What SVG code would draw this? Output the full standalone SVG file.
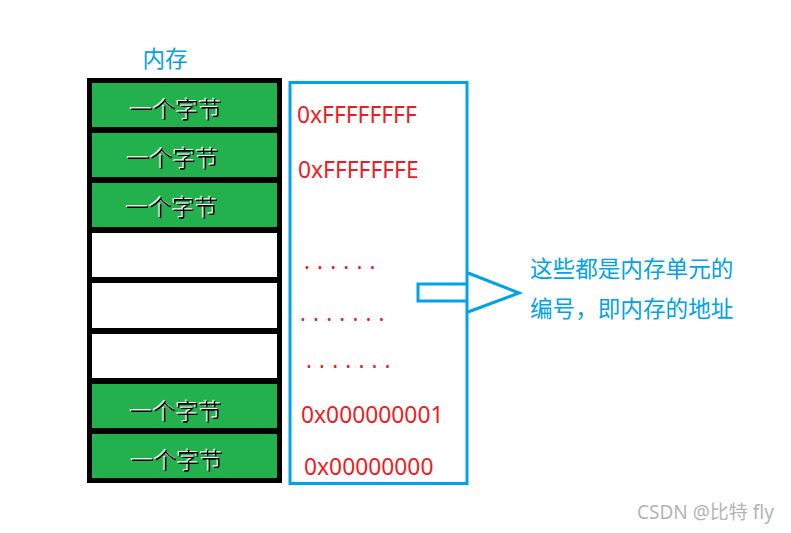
<svg xmlns="http://www.w3.org/2000/svg" width="791" height="533" viewBox="0 0 791 533">
<defs>
<style>
.cell-g{fill:#22b14c}
.cell-w{fill:#ffffff}
.byte{font-family:"Noto Sans CJK SC","Noto Sans",sans-serif;font-size:23px;fill:#000;text-anchor:middle;filter:url(#ws)}
.addr{font-family:"Noto Sans","Noto Sans CJK SC",sans-serif;font-size:22.8px;fill:#ed1c24}
.dots{font-family:"Noto Sans",sans-serif;font-size:22px;fill:#ed1c24;letter-spacing:7.2px}
.blue{font-family:"Noto Sans CJK SC","Noto Sans",sans-serif;font-size:22.6px;fill:#00a2e8}
.line{fill:none;stroke:#00a2e8;stroke-width:3}
</style>
<filter id="ws" x="-10%" y="-20%" width="120%" height="140%">
<feDropShadow dx="-1.2" dy="-1" stdDeviation="0" flood-color="#ffffff" flood-opacity="1"/>
</filter>
</defs>
<rect width="791" height="533" fill="#ffffff"/>

<g id="memory-title"><text class="blue" x="165" y="67" text-anchor="middle" font-size="22">内存</text></g>

<g id="memory-frame"><rect x="87" y="78" width="195" height="405" fill="#000"/></g>
<g id="cell1"><rect class="cell-g" x="92" y="83" width="185" height="44"/><text class="byte" x="176" y="118">一个字节</text></g>
<g id="cell2"><rect class="cell-g" x="92" y="133" width="185" height="44"/><text class="byte" x="173" y="167">一个字节</text></g>
<g id="cell3"><rect class="cell-g" x="92" y="183" width="185" height="44"/><text class="byte" x="172" y="216">一个字节</text></g>
<g id="cell4"><rect class="cell-w" x="92" y="233" width="185" height="44"/></g>
<g id="cell5"><rect class="cell-w" x="92" y="283" width="185" height="45"/></g>
<g id="cell6"><rect class="cell-w" x="92" y="334" width="185" height="44"/></g>
<g id="cell7"><rect class="cell-g" x="92" y="384" width="185" height="44"/><text class="byte" x="176" y="420">一个字节</text></g>
<g id="cell8"><rect class="cell-g" x="92" y="434" width="185" height="44"/><text class="byte" x="177" y="469">一个字节</text></g>

<g id="address-box"><rect class="line" x="290" y="82.5" width="177" height="401"/></g>
<g id="addresses">
<text class="addr" x="297" y="123">0xFFFFFFFF</text>
<text class="addr" x="298" y="178">0xFFFFFFFE</text>
<text class="dots" x="304" y="269">......</text>
<text class="dots" x="300" y="321">.......</text>
<text class="dots" x="306" y="368">.......</text>
<text class="addr" x="301" y="423">0x000000001</text>
<text class="addr" x="304" y="475">0x00000000</text>
</g>

<g id="connectors">
<path class="line" d="M468,284 H418 V301 H468"/>
<path class="line" d="M468,273 L519,293 L468,312"/>
</g>

<g id="description">
<text class="blue" x="530" y="277">这些都是内存单元的</text>
<text class="blue" x="530" y="317">编号，即内存的地址</text>
</g>

<g id="watermark"><text x="637" y="519" font-family="Noto Sans,Noto Sans CJK SC,sans-serif" font-size="19" fill="#b4b4b4">CSDN @比特 fly</text></g>
</svg>
